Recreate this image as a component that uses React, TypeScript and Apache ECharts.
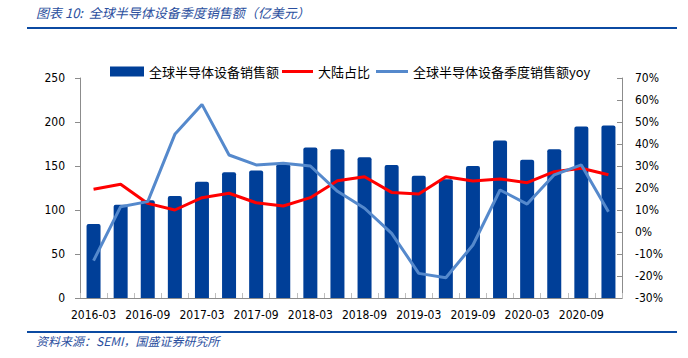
import React, { useEffect, useRef } from "react";
import * as echarts from "echarts";

const categories = [
  "2016-03", "2016-06", "2016-09", "2016-12",
  "2017-03", "2017-06", "2017-09", "2017-12",
  "2018-03", "2018-06", "2018-09", "2018-12",
  "2019-03", "2019-06", "2019-09", "2019-12",
  "2020-03", "2020-06", "2020-09", "2020-12",
];
const salesValues = [84, 106, 111, 116, 132, 143, 145, 152, 171, 169, 160, 151, 139, 135, 150, 179, 157, 169, 195, 196];
const chinaShare = [19.4, 21.7, 13, 10, 15.6, 17.6, 13.3, 11.8, 15.6, 23.3, 25.1, 18, 17.3, 25.1, 23.2, 24.1, 22.4, 27.4, 29, 26];
const salesYoy = [-13, 11.5, 13.8, 44.4, 58, 35, 30.5, 31.2, 30, 18.5, 10.8, -0.6, -18.8, -20.8, -5.9, 19.1, 12.7, 26, 30.5, 9.2];

const NAME_BAR = "全球半导体设备销售额";
const NAME_RED = "大陆占比";
const NAME_BLUE = "全球半导体设备季度销售额yoy";

const FONT = "'DejaVu Sans Condensed', 'DejaVu Sans'";
const CJK = "'Noto Sans CJK SC', 'DejaVu Sans'";

export default function App() {
  const ref = useRef<HTMLDivElement>(null);
  useEffect(() => {
    const chart = echarts.init(ref.current!, null, { renderer: "svg" });
    const legendText = { fontSize: 13, color: "#000", fontFamily: CJK };
    chart.setOption({
      animation: false,
      backgroundColor: "#fff",
      grid: { left: 80, right: 66, top: 78, bottom: 60 },
      legend: [
        { data: [{ name: NAME_BAR, icon: "rect" }], left: 105, top: 60, itemWidth: 34, itemHeight: 10, itemGap: 0, textStyle: legendText, selectedMode: false },
        { data: [{ name: NAME_RED, icon: "rect" }], left: 277, top: 60, itemWidth: 31, itemHeight: 3, textStyle: legendText, selectedMode: false },
        { data: [{ name: NAME_BLUE, icon: "rect" }], left: 371, top: 60, itemWidth: 32, itemHeight: 3, textStyle: legendText, selectedMode: false },
      ],
      xAxis: {
        type: "category",
        data: categories,
        boundaryGap: true,
        axisLine: { lineStyle: { color: "#8c8c8c", width: 1 } },
        axisTick: { show: true, inside: true, length: 5, interval: 0, lineStyle: { color: "#bfbfbf" } },
        axisLabel: { interval: 1, margin: 11, fontSize: 12, color: "#000", fontFamily: FONT },
      },
      yAxis: [
        {
          type: "value",
          min: 0, max: 250, interval: 50,
          axisLine: { show: true, lineStyle: { color: "#8c8c8c" } },
          axisTick: { show: true, length: 5, lineStyle: { color: "#8c8c8c" } },
          splitLine: { show: false },
          axisLabel: { margin: 15, fontSize: 12, color: "#000", fontFamily: FONT },
        },
        {
          type: "value",
          min: -30, max: 70, interval: 10,
          position: "right",
          axisLine: { show: true, lineStyle: { color: "#8c8c8c" } },
          axisTick: { show: true, inside: true, length: 5, lineStyle: { color: "#8c8c8c" } },
          splitLine: { show: false },
          axisLabel: { margin: 13, fontSize: 12, color: "#000", fontFamily: FONT, formatter: "{value}%" },
        },
      ],
      series: [
        {
          name: NAME_BAR,
          type: "bar",
          data: salesValues,
          barWidth: 14,
          itemStyle: { color: "#003f98", borderRadius: [2, 2, 0, 0] },
          yAxisIndex: 0,
        },
        {
          name: NAME_RED,
          type: "line",
          data: chinaShare,
          yAxisIndex: 1,
          symbol: "none",
          lineStyle: { color: "#ff0000", width: 3 },
          itemStyle: { color: "#ff0000" },
        },
        {
          name: NAME_BLUE,
          type: "line",
          data: salesYoy,
          yAxisIndex: 1,
          symbol: "none",
          lineStyle: { color: "#5589cc", width: 3 },
          itemStyle: { color: "#5589cc" },
        },
      ],
      graphic: [
        {
          type: "text", left: 36, top: 6,
          style: { text: "图表 10:  全球半导体设备季度销售额（亿美元）", fontSize: 13, fontStyle: "italic", fill: "#2b4f9e", fontFamily: CJK },
        },
        { type: "line", shape: { x1: 27, y1: 28, x2: 677, y2: 28 }, style: { stroke: "#0b4aa2", lineWidth: 2 } },
        { type: "line", shape: { x1: 27, y1: 332, x2: 677, y2: 332 }, style: { stroke: "#0b4aa2", lineWidth: 2 } },
        {
          type: "text", left: 36, top: 334,
          style: { text: "资料来源：SEMI，国盛证券研究所", fontSize: 12, fontStyle: "italic", fill: "#2b4f9e", fontFamily: CJK },
        },
      ],
    });
    return () => chart.dispose();
  }, []);
  return <div ref={ref} style={{ width: 688, height: 358, position: "absolute", left: 0, top: 0 }} />;
}
